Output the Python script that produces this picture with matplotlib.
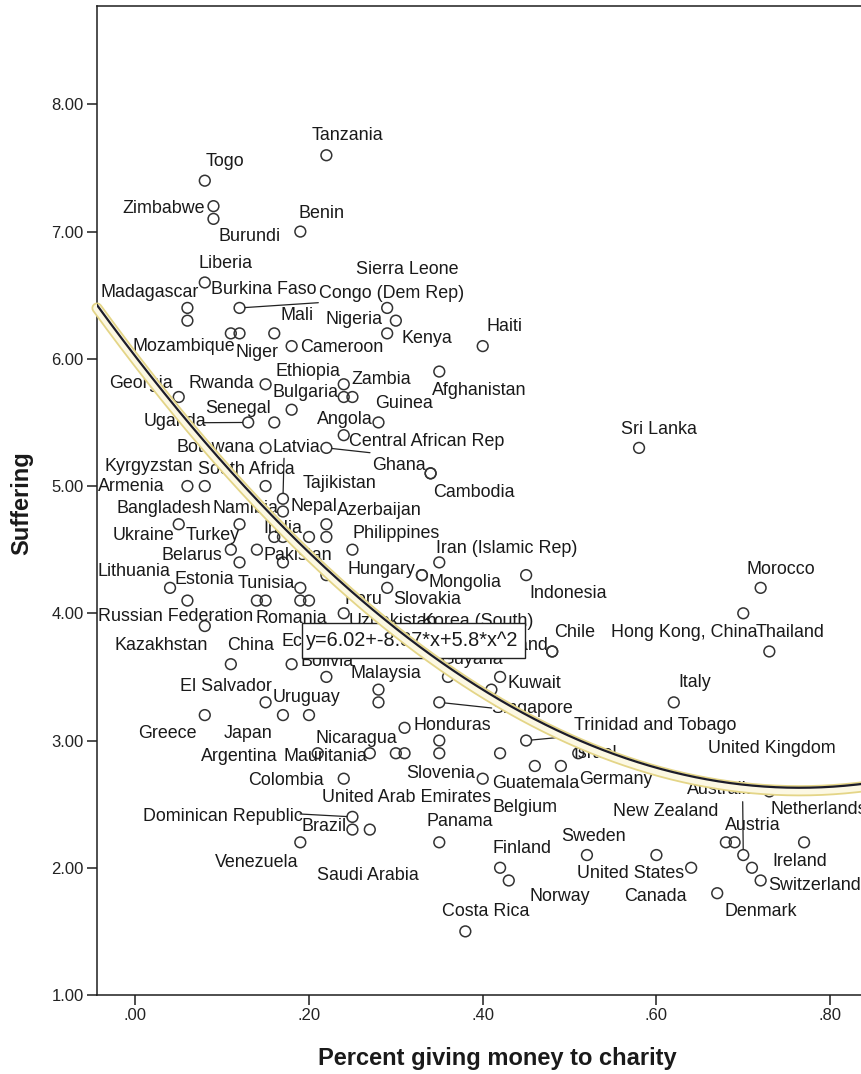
import numpy as np
import matplotlib
matplotlib.use("Agg")
import matplotlib.pyplot as plt
from matplotlib.patches import Rectangle
from matplotlib.transforms import offset_copy

plt.rcParams['font.family'] = ['Liberation Sans', 'DejaVu Sans']

# ---------------- data ----------------
countries = [
    "Tanzania", "Togo", "Zimbabwe", "Burundi", "Benin", "Liberia", "Madagascar",
    "Burkina Faso", "Congo (Dem Rep)", "Sierra Leone", "Nigeria", "Kenya",
    "Mozambique", "Niger", "Mali", "Cameroon", "Haiti", "Afghanistan", "Rwanda",
    "Zambia", "Bulgaria", "Ethiopia", "Georgia", "Senegal", "Uganda", "Guinea",
    "Angola", "Botswana", "Central African Rep", "Latvia", "Ghana", "Cambodia",
    "Sri Lanka", "Kyrgyzstan", "Armenia", "South Africa", "Tajikistan", "Nepal",
    "Azerbaijan", "Bangladesh", "Namibia", "Ukraine", "Turkey", "India",
    "Philippines", "Iran (Islamic Rep)", "Belarus", "Pakistan", "Lithuania",
    "Hungary", "Mongolia", "Indonesia", "Morocco", "Estonia", "Tunisia", "Peru",
    "Slovakia", "Russian Federation", "Romania", "Uzbekistan", "Korea (South)",
    "Chile", "Hong Kong, China", "Thailand", "Kazakhstan", "China", "Ecuador",
    "Poland", "Bolivia", "Guyana", "Malaysia", "El Salvador", "Uruguay", "Kuwait",
    "Singapore", "Italy", "Greece", "Japan", "Honduras", "Trinidad and Tobago",
    "Nicaragua", "United Kingdom", "Argentina", "Mauritania", "Israel",
    "Slovenia", "Guatemala", "Germany", "Colombia", "Australia",
    "United Arab Emirates", "Belgium", "Netherlands", "New Zealand",
    "Dominican Republic", "Austria", "Brazil", "Panama", "Sweden", "Finland",
    "Ireland", "Venezuela", "United States", "Switzerland", "Saudi Arabia",
    "Norway", "Canada", "Denmark", "Costa Rica",
]
giving = [
    0.22, 0.08, 0.09, 0.09, 0.19, 0.08, 0.06,
    0.06, 0.12, 0.29, 0.30, 0.29,
    0.11, 0.12, 0.16, 0.18, 0.40, 0.35, 0.15,
    0.24, 0.24, 0.25, 0.05, 0.18, 0.13, 0.28,
    0.24, 0.15, 0.22, 0.17, 0.34, 0.34,
    0.58, 0.06, 0.08, 0.15, 0.22, 0.17,
    0.22, 0.14, 0.16, 0.05, 0.12, 0.17,
    0.25, 0.35, 0.11, 0.17, 0.04,
    0.33, 0.33, 0.45, 0.72, 0.06, 0.19, 0.24,
    0.29, 0.14, 0.15, 0.22, 0.41,
    0.48, 0.70, 0.73, 0.08, 0.11, 0.18,
    0.48, 0.22, 0.36, 0.28, 0.15, 0.17, 0.42,
    0.35, 0.62, 0.08, 0.20, 0.31, 0.45,
    0.27, 0.71, 0.21, 0.30, 0.51,
    0.40, 0.42, 0.49, 0.24, 0.70,
    0.27, 0.46, 0.73, 0.68,
    0.25, 0.69, 0.25, 0.35, 0.52, 0.42,
    0.77, 0.19, 0.64, 0.72, 0.31,
    0.43, 0.60, 0.67, 0.38,
]
suffering = [
    7.6, 7.4, 7.2, 7.1, 7.0, 6.6, 6.4,
    6.3, 6.4, 6.4, 6.3, 6.2,
    6.2, 6.2, 6.2, 6.1, 6.1, 5.9, 5.8,
    5.8, 5.7, 5.7, 5.7, 5.6, 5.5, 5.5,
    5.4, 5.3, 5.3, 4.9, 5.1, 5.1,
    5.3, 5.0, 5.0, 5.0, 4.7, 4.8,
    4.6, 4.5, 4.6, 4.7, 4.7, 4.6,
    4.5, 4.4, 4.5, 4.4, 4.2,
    4.3, 4.3, 4.3, 4.2, 4.1, 4.2, 4.0,
    4.2, 4.1, 4.1, 4.3, 3.4,
    3.7, 4.0, 3.7, 3.9, 3.6, 3.6,
    3.7, 3.5, 3.5, 3.4, 3.3, 3.2, 3.5,
    3.3, 3.3, 3.2, 3.2, 3.1, 3.0,
    2.9, 2.0, 2.9, 2.9, 2.9,
    2.7, 2.9, 2.8, 2.7, 2.1,
    2.3, 2.8, 2.6, 2.2,
    2.4, 2.2, 2.3, 2.2, 2.1, 2.0,
    2.2, 2.2, 2.0, 1.9, 2.9,
    1.9, 2.1, 1.8, 1.5,
]
# countries whose labels were suppressed in the original
unlabeled_giving = [0.16, 0.20, 0.12, 0.19, 0.20, 0.28, 0.35, 0.35]
unlabeled_suffering = [5.5, 4.6, 4.4, 4.1, 4.1, 3.3, 3.0, 2.9]

fit_coef = [6.02, -8.87, 5.8]   # y = b0 + b1*x + b2*x^2
equation = "y=6.02+-8.87*x+5.8*x^2"

x_ticks = [0.0, 0.2, 0.4, 0.6, 0.8]
y_ticks = [1, 2, 3, 4, 5, 6, 7, 8]

# ------------- label placement (figure pixels, from top-left) -------------
label_pos = {
    "Tanzania": (311.7, 136), "Togo": (206, 161.7), "Zimbabwe": (122.3, 208.3),
    "Burundi": (219, 236.7), "Benin": (298.3, 214), "Liberia": (199, 264),
    "Madagascar": (100, 292.7), "Burkina Faso": (210.7, 290),
    "Congo (Dem Rep)": (319.3, 293.3), "Sierra Leone": (355.7, 270),
    "Nigeria": (325.7, 319.3), "Kenya": (401.7, 338.7), "Mozambique": (133, 346.7),
    "Niger": (235.7, 352.7), "Mali": (280, 316), "Cameroon": (300, 347.3),
    "Haiti": (486, 326.7), "Afghanistan": (432.3, 390.7), "Rwanda": (188.3, 384),
    "Zambia": (351, 379.3), "Bulgaria": (272.7, 392.7), "Ethiopia": (275.7, 371.7),
    "Georgia": (109.3, 383.3), "Senegal": (205.7, 408.3), "Uganda": (143.3, 421.7),
    "Guinea": (375, 404), "Angola": (316.7, 419.3), "Botswana": (176, 447.3),
    "Central African Rep": (349.3, 441.7), "Latvia": (272.7, 447.3),
    "Ghana": (371.7, 466), "Cambodia": (433.3, 492.3), "Sri Lanka": (620.7, 430),
    "Kyrgyzstan": (105, 466.7), "Armenia": (98.3, 486.7),
    "South Africa": (198.3, 470), "Tajikistan": (302.7, 484), "Nepal": (290, 506.7),
    "Azerbaijan": (336.7, 510.7), "Bangladesh": (116.7, 508.3),
    "Namibia": (212.7, 508.3), "Ukraine": (112.7, 535), "Turkey": (186, 535),
    "India": (263.3, 528.3), "Philippines": (352.3, 533.3),
    "Iran (Islamic Rep)": (436, 548.3), "Belarus": (161.7, 556),
    "Pakistan": (263.3, 556), "Lithuania": (97.3, 571.7), "Hungary": (347.3, 569.3),
    "Mongolia": (428.3, 582.3), "Indonesia": (529.3, 593.3), "Morocco": (746, 570),
    "Estonia": (175, 580), "Tunisia": (237.7, 583.3), "Peru": (345, 599.3),
    "Slovakia": (393.3, 600), "Russian Federation": (98.3, 616.7),
    "Romania": (255.7, 618.3), "Uzbekistan": (348.3, 621.7),
    "Korea (South)": (421.7, 621.7), "Chile": (554, 632.3),
    "Hong Kong, China": (610.7, 632.3), "Thailand": (756, 632.3),
    "Kazakhstan": (114, 645), "China": (227.3, 645), "Ecuador": (281.7, 641.7),
    "Poland": (492, 645), "Bolivia": (300, 661.7), "Guyana": (440, 660),
    "Malaysia": (351, 674), "El Salvador": (180, 686.7), "Uruguay": (272.7, 697.3),
    "Kuwait": (507.3, 684), "Singapore": (491.7, 708.3), "Italy": (678.3, 682.7),
    "Greece": (138.3, 733.3), "Japan": (223.3, 733.3), "Honduras": (413.3, 725),
    "Trinidad and Tobago": (574, 725), "Nicaragua": (315.7, 738.3),
    "United Kingdom": (708.3, 748.3), "Argentina": (201, 756.7),
    "Mauritania": (283.3, 756.7), "Israel": (573.3, 754), "Slovenia": (406, 774),
    "Guatemala": (491.7, 783.3), "Germany": (579, 779), "Colombia": (247.7, 780.7),
    "Australia": (687.3, 789.3), "United Arab Emirates": (321.7, 797.7),
    "Belgium": (492.3, 807.3), "Netherlands": (770.7, 809.3),
    "New Zealand": (613.3, 811.7), "Dominican Republic": (142.7, 816.7),
    "Austria": (725, 826), "Brazil": (301.7, 826.7), "Panama": (426.7, 821.7),
    "Sweden": (561.7, 836.7), "Finland": (492.3, 848.3), "Ireland": (772.3, 861.7),
    "Venezuela": (215, 862.7), "United States": (576.7, 873.3),
    "Switzerland": (768.3, 885), "Saudi Arabia": (317.3, 876),
    "Norway": (529.3, 896.7), "Canada": (624, 896.7), "Denmark": (724, 911.7),
    "Costa Rica": (442.3, 911.7),
}
leader_end = {
    "Congo (Dem Rep)": (318.3, 302.7), "Uganda": (203, 422.7),
    "Central African Rep": (370, 452.7), "Latvia": (284, 458.3),
    "Singapore": (491.7, 708), "Trinidad and Tobago": (566.7, 736.7),
    "Australia": (742.7, 801.7), "Dominican Republic": (300, 814),
}

W, H = 862, 1074
fig = plt.figure(figsize=(W / 100, H / 100), dpi=100)
ax_l, ax_r, ax_t, ax_b = 97, 862, 6, 995
ax = fig.add_axes([ax_l / W, 1 - ax_b / H, (ax_r - ax_l) / W, (ax_b - ax_t) / H])
ax.set_xlim(-0.0441, 0.8367)
ax.set_ylim(1.0, 8.773)

ink = '#1e1e1e'
for side in ['left', 'bottom', 'top']:
    ax.spines[side].set_color(ink)
    ax.spines[side].set_linewidth(1.1)
ax.spines['right'].set_visible(False)

ax.set_xticks(x_ticks)
ax.set_xticklabels([("%.2f" % v).lstrip('0') if v < 1 else "%.2f" % v for v in x_ticks])
ax.set_yticks(y_ticks)
ax.set_yticklabels(["%.2f" % v for v in y_ticks])
ax.tick_params(direction='out', length=7, width=1.1, color=ink, labelsize=12,
               labelcolor='#222222', pad=2.5, top=False, right=False)

# points
all_g = list(giving) + list(unlabeled_giving)
all_s = list(suffering) + list(unlabeled_suffering)
ax.scatter(all_g, all_s, s=60, facecolors='none', edgecolors='#333333',
           linewidths=1.1, zorder=3)

# labels
for name, g, s in zip(countries, giving, suffering):
    px, py = label_pos[name]
    ax.annotate(name, xy=(g, s), xytext=(px, H - py), textcoords='figure pixels',
                ha='left', va='center', fontsize=12.9, color='#1a1a1a', zorder=4)
    if name in leader_end:
        lx, ly = leader_end[name]
        ax.annotate('', xy=(g, s), xytext=(lx, H - ly), textcoords='figure pixels',
                    arrowprops=dict(arrowstyle='-', color='#222222', lw=0.9,
                                    shrinkA=0, shrinkB=4), zorder=4)

# equation box
bx0, bx1, by0, by1 = 302, 525, 623, 658
ax.add_patch(Rectangle(((bx0 - ax_l) / (ax_r - ax_l), (ax_b - by1) / (ax_b - ax_t)),
                       (bx1 - bx0) / (ax_r - ax_l), (by1 - by0) / (ax_b - ax_t),
                       transform=ax.transAxes, facecolor='white', edgecolor='#222222',
                       linewidth=1.0, zorder=6))
ax.text((306 - ax_l) / (ax_r - ax_l), (ax_b - 641) / (ax_b - ax_t), equation,
        transform=ax.transAxes, ha='left', va='center', fontsize=14.3,
        color='#1a1a1a', zorder=7)

# quadratic fit curve with highlight band
xs = np.linspace(ax.get_xlim()[0], ax.get_xlim()[1], 400)
ys = fit_coef[0] + fit_coef[1] * xs + fit_coef[2] * xs ** 2
band_tr = offset_copy(ax.transData, fig=fig, x=0, y=-3, units='dots')
ax.plot(xs, ys, color='#e4d587', lw=8.0, solid_capstyle='round', transform=band_tr,
        clip_on=False, zorder=8)
ax.plot(xs, ys, color='#fcf8e3', lw=5.4, solid_capstyle='round', transform=band_tr,
        clip_on=False, zorder=8)
ax.plot(xs, ys, color='#1c1c2a', lw=1.6, zorder=9)

# axis titles
fig.text(497 / W, 1 - 1058 / H, "Percent giving money to charity", ha='center',
         va='center', fontsize=17, fontweight='bold', color='#1a1a1a')
fig.text(22 / W, 1 - 503 / H, "Suffering", ha='center', va='center', rotation=90,
         fontsize=17, fontweight='bold', color='#1a1a1a')

fig.savefig("out.png", dpi=100, facecolor='white')
